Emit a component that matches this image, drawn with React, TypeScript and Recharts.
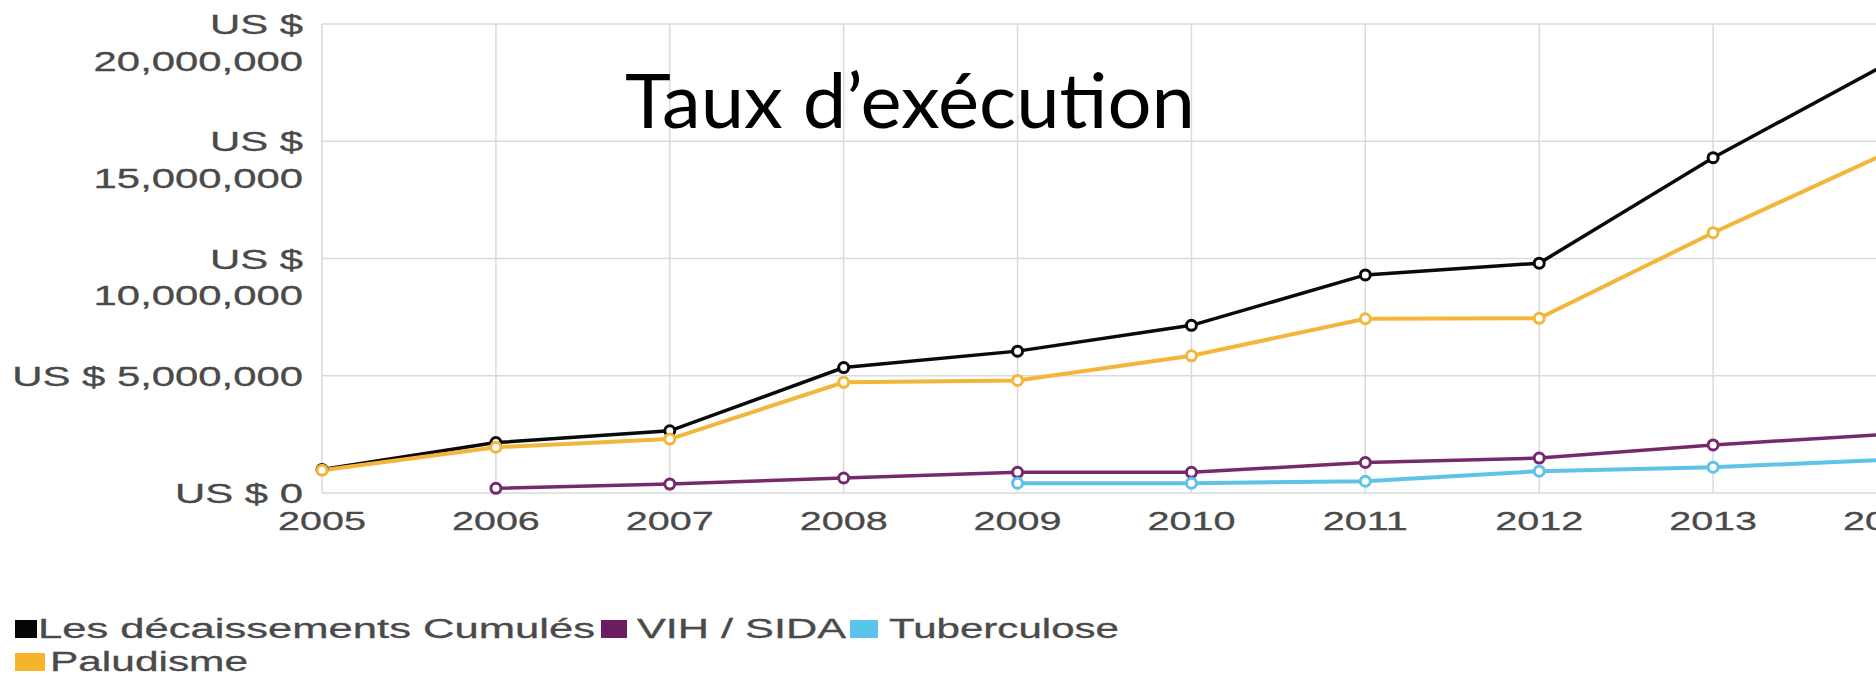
import React from 'react';
import { LineChart, Line, XAxis, YAxis, CartesianGrid } from 'recharts';

const years = [2005, 2006, 2007, 2008, 2009, 2010, 2011, 2012, 2013, 2014];
const cumulative = [1000000, 2150000, 2650000, 5350000, 6050000, 7150000, 9300000, 9800000, 14300000, 18300000];
const hivAids = [null, 200000, 380000, 640000, 880000, 880000, 1300000, 1490000, 2050000, 2500000];
const tuberculosis = [null, null, null, null, 420000, 420000, 500000, 930000, 1100000, 1420000];
const malaria = [970000, 1950000, 2300000, 4720000, 4800000, 5850000, 7430000, 7450000, 11100000, 14500000];
const yTicks = [0, 5000000, 10000000, 15000000, 20000000];

const seriesNames = ['Les décaissements Cumulés', 'VIH / SIDA', 'Tuberculose', 'Paludisme'];
const title = 'Taux d\u2019exécution';

const data = years.map((year, i) => ({
  year,
  cumulative: cumulative[i],
  hiv: hivAids[i],
  tb: tuberculosis[i],
  malaria: malaria[i],
}));

const FONT = '"Liberation Sans", Arial, sans-serif';
const TEXT = '#4a4a4a';

const YTick = (props: any) => {
  const { x, y, payload } = props;
  const v = payload.value as number;
  const num = v.toLocaleString('en-US');
  const lines = v >= 10000000 ? ['US $', num] : [`US $ ${num}`];
  return (
    <g transform={`translate(${x},${y}) scale(1.55,1)`}>
      {lines.map((t, i) => (
        <text key={i} x={0} y={10 + i * 37} textAnchor="end" fontFamily={FONT} fontSize={27} fill={TEXT}
          stroke={TEXT} strokeWidth={0.3}>
          {t}
        </text>
      ))}
    </g>
  );
};

const XTick = (props: any) => {
  const { x, y, payload } = props;
  return (
    <g transform={`translate(${x},${y}) scale(1.52,1)`}>
      <text x={0} y={37} textAnchor="middle" fontFamily={FONT} fontSize={26} fill={TEXT} stroke={TEXT} strokeWidth={0.3}>
        {payload.value}
      </text>
    </g>
  );
};

const colors = {
  cumulative: '#0a0a0a',
  hiv: '#742a6c',
  tb: '#5ec3e6',
  malaria: '#f2b63b',
};
const legendColors = ['#050505', '#6b1d5f', '#5cc4ec', '#f5b42a'];

export default function App() {
  return (
    <div style={{ position: 'absolute', left: 0, top: 0, width: 1876, height: 675, overflow: 'hidden', background: '#fff' }}>
      <LineChart width={1900} height={560} data={data} margin={{ top: 24, right: 13, left: 0, bottom: 0 }}>
        <CartesianGrid stroke="#dadada" strokeWidth={1.5} />
        <XAxis
          dataKey="year"
          type="number"
          domain={[2005, 2014]}
          ticks={years}
          interval={0}
          height={67}
          axisLine={false}
          tickLine={false}
          tickSize={0}
          tickMargin={0}
          tick={<XTick />}
        />
        <YAxis
          type="number"
          domain={[0, 20000000]}
          ticks={yTicks}
          interval={0}
          width={322}
          axisLine={false}
          tickLine={false}
          tickSize={0}
          tickMargin={19}
          tick={<YTick />}
        />
        <Line dataKey="cumulative" stroke={colors.cumulative} strokeWidth={3.5} isAnimationActive={false}
          dot={{ r: 5, fill: '#fff', strokeWidth: 3, stroke: colors.cumulative }} activeDot={false} />
        <Line dataKey="hiv" stroke={colors.hiv} strokeWidth={3.5} isAnimationActive={false}
          dot={{ r: 5, fill: '#fff', strokeWidth: 3, stroke: colors.hiv }} activeDot={false} />
        <Line dataKey="tb" stroke={colors.tb} strokeWidth={4} isAnimationActive={false}
          dot={{ r: 5, fill: '#fff', strokeWidth: 3, stroke: colors.tb }} activeDot={false} />
        <Line dataKey="malaria" stroke={colors.malaria} strokeWidth={4} isAnimationActive={false}
          dot={{ r: 5, fill: '#fff', strokeWidth: 3, stroke: colors.malaria }} activeDot={false} />
      </LineChart>
      <svg width={1876} height={675} style={{ position: 'absolute', left: 0, top: 0, pointerEvents: 'none' }}>
        <text x={625} y={128} fontFamily="Lato, 'Open Sans', sans-serif" fontSize={76} fill="#000"
          textLength={570} lengthAdjust="spacingAndGlyphs">{title}</text>
        <rect x={15} y={620} width={22} height={18} fill={legendColors[0]} />
        <text x={38} y={638} fontFamily={FONT} fontSize={27} fill={TEXT} stroke={TEXT} strokeWidth={0.3} textLength={557} lengthAdjust="spacingAndGlyphs">{seriesNames[0]}</text>
        <rect x={601} y={620} width={26} height={18} fill={legendColors[1]} />
        <text x={637} y={638} fontFamily={FONT} fontSize={27} fill={TEXT} stroke={TEXT} strokeWidth={0.3} textLength={209} lengthAdjust="spacingAndGlyphs">{seriesNames[1]}</text>
        <rect x={850} y={620} width={28} height={18} fill={legendColors[2]} />
        <text x={889} y={638} fontFamily={FONT} fontSize={27} fill={TEXT} stroke={TEXT} strokeWidth={0.3} textLength={230} lengthAdjust="spacingAndGlyphs">{seriesNames[2]}</text>
        <rect x={15} y={653} width={30} height={18} fill={legendColors[3]} />
        <text x={50} y={671} fontFamily={FONT} fontSize={27} fill={TEXT} stroke={TEXT} strokeWidth={0.3} textLength={198} lengthAdjust="spacingAndGlyphs">{seriesNames[3]}</text>
      </svg>
    </div>
  );
}
